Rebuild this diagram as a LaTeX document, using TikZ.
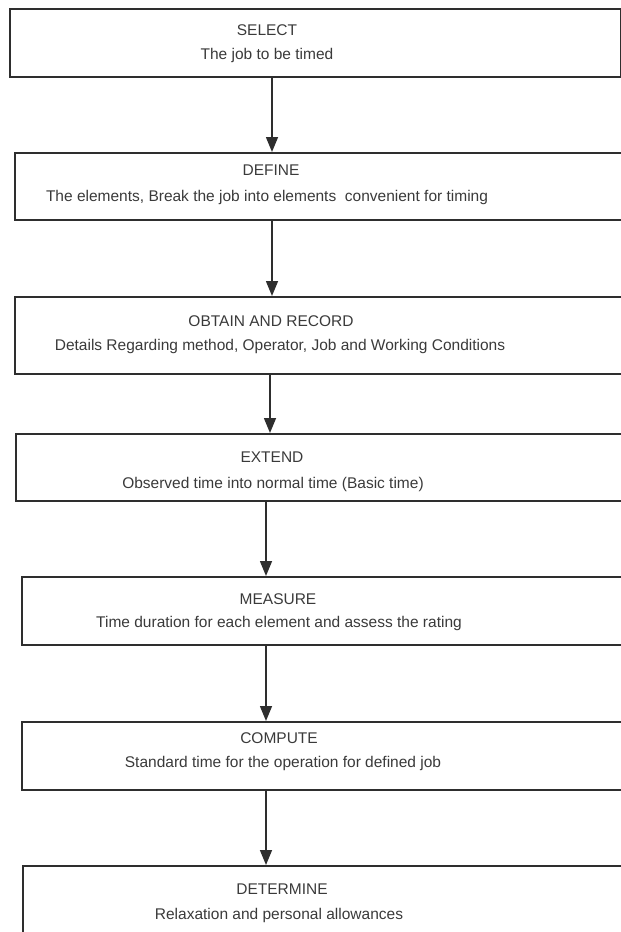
\documentclass[tikz,border=0pt]{standalone}
\usepackage{fontspec}
\setmainfont{Liberation Sans}
\usetikzlibrary{arrows.meta}

\definecolor{linegray}{HTML}{2E2E2E}
\definecolor{textgray}{HTML}{3A3A3A}

\tikzset{
  stage/.style={draw=linegray, line width=1.5pt, rectangle, inner sep=0pt, anchor=north west},
  head/.style={text=textgray, font=\fontsize{15.5}{18}\selectfont, inner sep=0pt},
  flow/.style={draw=linegray, line width=1.5pt, -{Triangle[width=12pt,length=15pt]}}
}

\begin{document}
\begin{tikzpicture}[x=1pt,y=-1pt]

\useasboundingbox (0,0) rectangle (621,932);
\clip (0,0) rectangle (621,932);

% Kaesten
\node[stage, minimum width=611, minimum height=68] (select)  at (9,8)   {};
\node[stage, minimum width=640, minimum height=67] (define)  at (14,152) {};
\node[stage, minimum width=640, minimum height=77] (obtain)  at (14,296) {};
\node[stage, minimum width=640, minimum height=67] (extend)  at (15,433) {};
\node[stage, minimum width=640, minimum height=68] (measure) at (21,576) {};
\node[stage, minimum width=640, minimum height=68] (compute) at (21,721) {};
\node[stage, minimum width=640, minimum height=90] (determine) at (22,865) {};

% Texte
\node[head] (selectT) at (267,30) {SELECT};
\node[head] (selectD) at (267,55) {The job to be timed};
\node[head] (defineT) at (271,170) {DEFINE};
\node[head] (defineD) at (267,197) {The elements, Break the job into elements\ \ convenient for timing};
\node[head] (obtainT) at (271,321) {OBTAIN AND RECORD};
\node[head] (obtainD) at (280,346) {Details Regarding method, Operator, Job and Working Conditions};
\node[head] (extendT) at (272,457) {EXTEND};
\node[head] (extendD) at (273,484) {Observed time into normal time (Basic time)};
\node[head] (measureT) at (278,599) {MEASURE};
\node[head] (measureD) at (279,623) {Time duration for each element and assess the rating};
\node[head] (computeT) at (279,738) {COMPUTE};
\node[head] (computeD) at (283,763) {Standard time for the operation for defined job};
\node[head] (determineT) at (282,889) {DETERMINE};
\node[head] (determineD) at (279,915) {Relaxation and personal allowances};

% Pfeile
\coordinate (p1) at (272,0);
\coordinate (p2) at (272,0);
\coordinate (p3) at (270,0);
\coordinate (p4) at (266,0);
\coordinate (p5) at (266,0);
\coordinate (p6) at (266,0);

\draw[flow] (select.south -| p1) -- (define.north -| p1);
\draw[flow] (define.south -| p2) -- (obtain.north -| p2);
\draw[flow] (obtain.south -| p3) -- (extend.north -| p3);
\draw[flow] (extend.south -| p4) -- (measure.north -| p4);
\draw[flow] (measure.south -| p5) -- (compute.north -| p5);
\draw[flow] (compute.south -| p6) -- (determine.north -| p6);

\end{tikzpicture}
\end{document}
